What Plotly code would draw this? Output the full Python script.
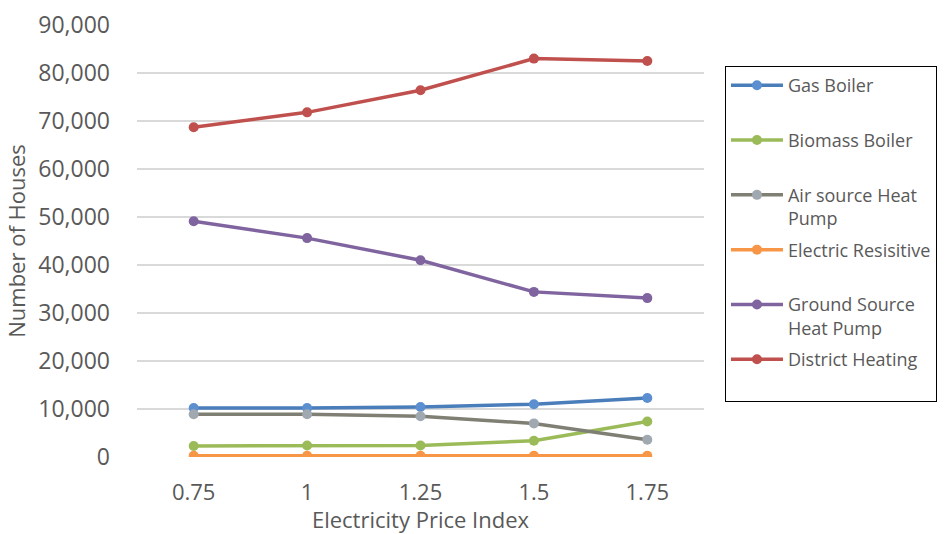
import plotly.graph_objects as go

# Electricity price index scenarios (category axis)
price_index = ["0.75", "1", "1.25", "1.5", "1.75"]

# Number of houses by heating technology
gas_boiler = [10200, 10200, 10400, 11000, 12300]
biomass_boiler = [2300, 2400, 2400, 3400, 7400]
air_source_hp = [8900, 8900, 8500, 7000, 3600]
electric_resistive = [250, 250, 250, 250, 250]
ground_source_hp = [49100, 45600, 41000, 34400, 33100]
district_heating = [68700, 71800, 76400, 83000, 82500]

series = [
    ("Gas Boiler<br> ", gas_boiler, "#4A7EBB", "#5B8FD0"),
    ("Biomass Boiler<br> ", biomass_boiler, "#9BBB59", "#9BBB59"),
    ("Air source Heat<br>Pump", air_source_hp, "#7F7F74", "#A0A8B0"),
    ("Electric Resisitive<br> ", electric_resistive, "#F79646", "#F79646"),
    ("Ground Source<br>Heat Pump", ground_source_hp, "#7F64A0", "#7F64A0"),
    ("District Heating<br> ", district_heating, "#C0504D", "#C0504D"),
]

fig = go.Figure()
for i, (name, values, line_color, marker_color) in enumerate(series):
    fig.add_trace(go.Scatter(
        x=price_index,
        y=values,
        name=name,
        legendgroup=f"g{i}",
        mode="lines+markers",
        line=dict(color=line_color, width=3.5),
        marker=dict(color=marker_color, size=10, symbol="circle"),
    ))

font_family = "Open Sans, sans-serif"
tick_color = "#595959"

fig.update_layout(
    width=949,
    height=534,
    margin=dict(l=137, r=243, t=25, b=77),
    paper_bgcolor="white",
    plot_bgcolor="white",
    font=dict(family=font_family, size=23, color=tick_color),
    showlegend=True,
    legend=dict(
        x=1.037,
        y=0.905,
        xanchor="left",
        yanchor="top",
        bordercolor="black",
        borderwidth=1,
        bgcolor="white",
        font=dict(family=font_family, size=18, color=tick_color),
        valign="top",
        itemwidth=52,
        traceorder="grouped",
        tracegroupgap=5,
    ),
    xaxis=dict(
        type="category",
        range=[-0.5, 4.5],
        automargin=False,
        showgrid=False,
        showline=False,
        zeroline=False,
        ticks="",
        ticklabelstandoff=20,
        tickfont=dict(size=22, color=tick_color),
        title=dict(text="Electricity Price Index", standoff=8,
                   font=dict(size=22, color=tick_color)),
    ),
    yaxis=dict(
        range=[0, 90000],
        dtick=10000,
        tickformat=",",
        automargin=False,
        showgrid=True,
        gridcolor="#D9D9D9",
        gridwidth=1.5,
        zeroline=False,
        showline=False,
        ticks="",
        ticklabelstandoff=26,
        tickfont=dict(size=23, color=tick_color),
        title=dict(text="Number of Houses", standoff=6,
                   font=dict(size=22, color=tick_color)),
    ),
)

fig.write_html("out.html")
